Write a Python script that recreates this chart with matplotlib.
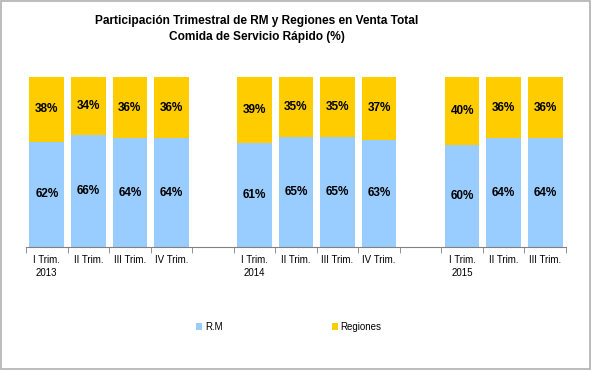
import numpy as np
import matplotlib.pyplot as plt
from matplotlib.patches import Rectangle

plt.rcParams['font.family'] = ['Liberation Sans', 'DejaVu Sans']

# datos
trimestres = ['I Trim.\n2013', 'II Trim.', 'III Trim.', 'IV Trim.',
              'I Trim.\n2014', 'II Trim.', 'III Trim.', 'IV Trim.',
              'I Trim.\n2015', 'II Trim.', 'III Trim.']
rm = [62, 66, 64, 64, 61, 65, 65, 63, 60, 64, 64]
regiones = [38, 34, 36, 36, 39, 35, 35, 37, 40, 36, 36]
# posiciones con hueco entre años
pos = [0, 1, 2, 3, 5, 6, 7, 8, 10, 11, 12]

azul = '#99CCFF'
amarillo = '#FFCC00'

fig = plt.figure(figsize=(5.92, 3.71), dpi=100)
ax = fig.add_axes([26/592, 1-247/371, 540/592, 170/371])

ax.bar(pos, rm, width=0.835, color=azul, label='R.M')
ax.bar(pos, regiones, width=0.835, bottom=rm, color=amarillo, label='Regiones')

for x, a, b in zip(pos, rm, regiones):
    ax.text(x, a/2, '%d%%' % a, ha='center', va='center', fontsize=8.5, fontweight='bold')
    ax.text(x, a + b/2, '%d%%' % b, ha='center', va='center', fontsize=8.5, fontweight='bold')

ax.set_xlim(-0.5, 12.5)
ax.set_ylim(0, 100)
ax.set_xticks(pos)
ax.set_xticklabels(trimestres, fontsize=7, linespacing=1.3)
ax.tick_params(axis='x', which='major', length=0, pad=6)
ax.set_xticks(np.arange(-0.5, 13, 1), minor=True)
ax.tick_params(axis='x', which='minor', length=4, color='#808080', direction='out')
ax.set_yticks([])
for s in ['left', 'right', 'top']:
    ax.spines[s].set_visible(False)
ax.spines['bottom'].set_color('#808080')

fig.text(257/592, 1-21/371, 'Participación Trimestral de RM y Regiones en Venta Total',
         ha='center', va='center', fontsize=8.6, fontweight='bold')
fig.text(257/592, 1-37/371, 'Comida de Servicio Rápido (%)',
         ha='center', va='center', fontsize=8.6, fontweight='bold')

fig.legend(loc='center', bbox_to_anchor=(289/592, 1-327/371), ncol=2, frameon=False,
           fontsize=7, handlelength=0.6, handleheight=0.6, handletextpad=0.3,
           columnspacing=11.2)

fig.patches.append(Rectangle((0.002, 0.006), 0.994, 0.99, transform=fig.transFigure,
                             fill=False, edgecolor='#B0B0B0', linewidth=1.2))

fig.savefig('out.png', dpi=100)
